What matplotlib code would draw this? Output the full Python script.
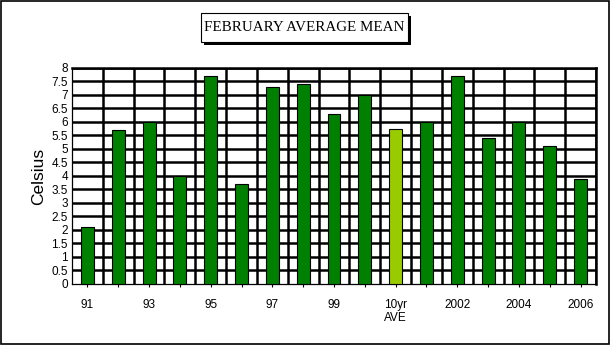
import matplotlib.pyplot as plt
from matplotlib.patches import Rectangle

# February mean temperature per year, with the 10 year average in the middle
years = ["91", "92", "93", "94", "95", "96", "97", "98", "99", "2000",
         "10yr\nAVE", "2001", "2002", "2003", "2004", "2005", "2006"]
temps = [2.1, 5.7, 6.0, 4.0, 7.7, 3.7, 7.3, 7.4, 6.3, 7.0,
         5.73, 6.0, 7.7, 5.4, 6.0, 5.1, 3.9]
avg_label = "10yr\nAVE"

fig = plt.figure(figsize=(6.1, 3.45), dpi=100)
ax = fig.add_axes([0.118, 0.177, 0.859, 0.626])

x = list(range(len(years)))
colors = ["#99cc00" if y == avg_label else "#008000" for y in years]
ax.bar(x, temps, width=0.42, color=colors, edgecolor="black", linewidth=0.8, zorder=3)

# heavy grid: a line every 0.5 deg and between every pair of bars
for v in [i * 0.5 for i in range(1, 17)]:
    ax.axhline(v, color="black", linewidth=1.8, zorder=1)
for b in range(len(years)):
    ax.axvline(b + 0.5, color="black", linewidth=1.8, zorder=1)

ax.set_xlim(-0.5, len(years) - 0.5)
ax.set_ylim(0, 8)
ax.set_yticks([i * 0.5 for i in range(17)])
ax.set_yticklabels([f"{i * 0.5:g}" for i in range(17)], fontsize=8.5,
                   family="Liberation Sans")
ax.set_xticks(x)
ax.set_xticklabels([y if i % 2 == 0 else "" for i, y in enumerate(years)],
                   fontsize=8.5, family="Liberation Sans", va="top")
ax.tick_params(axis="x", direction="inout", length=5, width=0.8, pad=8)
ax.tick_params(axis="y", length=0, pad=3)
ax.set_ylabel("Celsius", fontsize=12.5, family="Liberation Sans", labelpad=4)

for side in ["top", "right"]:
    ax.spines[side].set_linewidth(1.8)
for side in ["left", "bottom"]:
    ax.spines[side].set_linewidth(0.9)

# boxed title with a drop shadow
W, H = 610, 345
bx, by, bw, bh = 201, 13, 207, 29
fig.patches.append(Rectangle(((bx + 3) / W, 1 - (by + bh + 3) / H), bw / W, bh / H,
                             transform=fig.transFigure, facecolor="black",
                             edgecolor="none", zorder=1))
fig.patches.append(Rectangle((bx / W, 1 - (by + bh) / H), bw / W, bh / H,
                             transform=fig.transFigure, facecolor="white",
                             edgecolor="black", linewidth=0.8, zorder=2))
fig.text((bx + bw / 2) / W, 1 - (by + bh / 2) / H, "FEBRUARY AVERAGE MEAN",
         ha="center", va="center", fontsize=10.8, family="Liberation Serif", zorder=3)

# outer frame of the chart
fig.patches.append(Rectangle((0.001, 0.002), 0.997, 0.995, transform=fig.transFigure,
                             facecolor="none", edgecolor="black", linewidth=1.2))

fig.savefig("out.png", dpi=100)
